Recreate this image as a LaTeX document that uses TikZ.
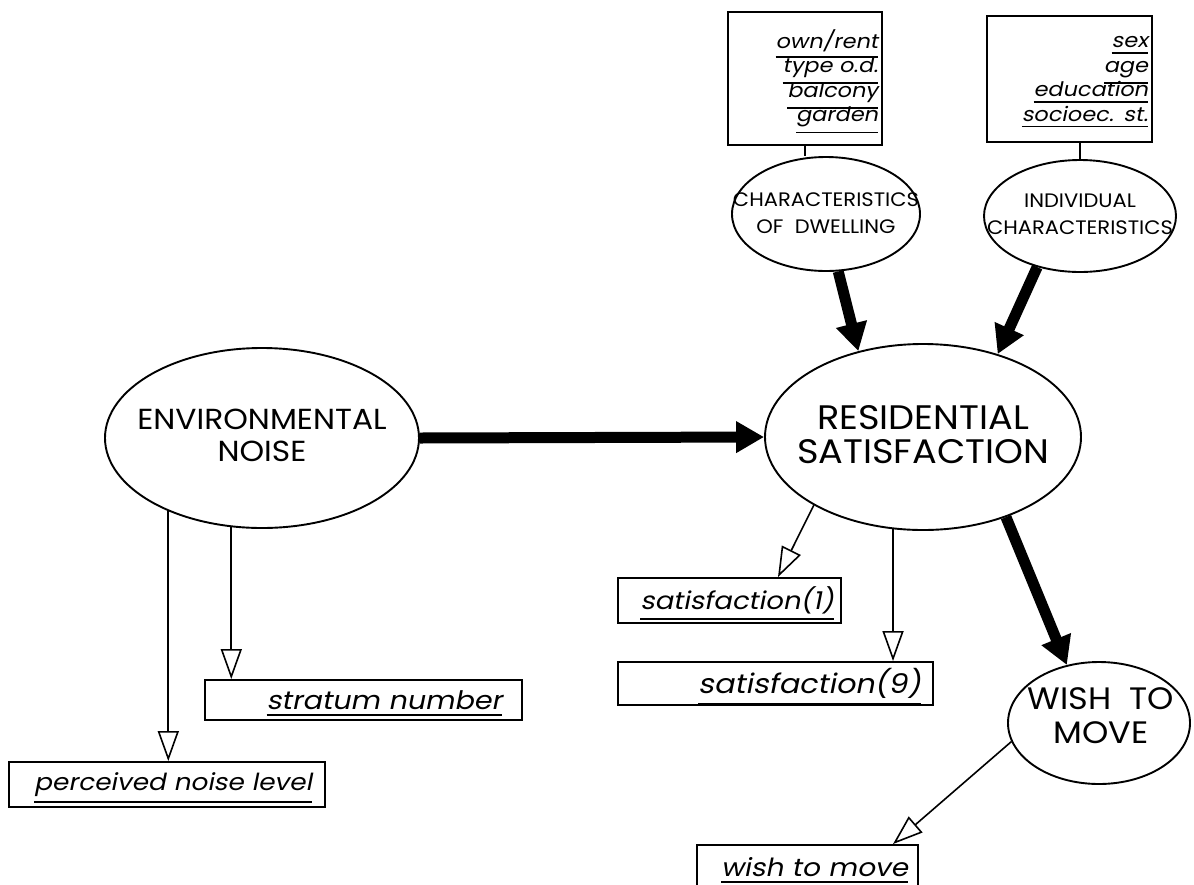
\documentclass[tikz,border=0pt]{standalone}
\usepackage{fontspec}
\setmainfont{Poppins}
\newfontfamily\capfont[FakeStretch=1.08,WordSpace=2]{Poppins}
\newfontfamily\lblfont[FakeSlant=0.2,FakeStretch=1.12,WordSpace=2.2]{Poppins}
\usetikzlibrary{shapes.geometric,arrows.meta}

% underlined variable name: rule drawn under the word without changing line spacing
\newsavebox\ulbox
\newcommand\ulword[1]{\sbox\ulbox{#1}\leavevmode\rlap{\raisebox{-\dimexpr\dp\ulbox+6pt\relax}[0pt][0pt]{\rule{\wd\ulbox}{1.8pt}}}\usebox\ulbox}

\tikzset{
  bubble/.style={draw, ellipse, line width=1.9pt, inner sep=0pt},
  captext/.style={align=center, inner sep=0pt},
  attrbox/.style={draw, rectangle, line width=1.9pt, align=right, inner ysep=0pt,
    font=\lblfont\fontsize{20}{24.5}\selectfont},
  varbox/.style={draw, rectangle, line width=1.9pt, align=right, inner ysep=0pt,
    font=\lblfont\fontsize{23.5}{26}\selectfont},
  thickarr/.style={line width=11pt, -{Triangle[length=28pt,width=30pt]}},
  openarr/.style={line width=1.6pt, -{Triangle[open,length=30pt,width=21pt,line width=1.6pt]}},
  link/.style={line width=2pt}
}

\begin{document}
\begin{tikzpicture}[x=1pt,y=-1pt]
\useasboundingbox (0,0) rectangle (1194,884);

% attribute lists
\node[attrbox, minimum width=154pt, minimum height=133pt, text width=146pt, inner xsep=4pt]
  (dwellattr) at (805,78.5)
  {\ulword{own/rent}\\\ulword{type o.d.}\\\ulword{balcony}\\\ulword{garden}};
\node[attrbox, minimum width=165pt, minimum height=126pt, text width=157pt, inner xsep=4pt]
  (indivattr) at (1069.5,79)
  {\ulword{sex}\\\ulword{age}\\\ulword{education}\\\ulword{socioec. st.}};

% concepts
\node[bubble, minimum width=188pt, minimum height=114pt,
  label={[captext, font=\capfont\fontsize{19.5}{27}\selectfont, yshift=1pt]center:CHARACTERISTICS\\OF DWELLING}]
  (dwell) at (826,214) {};
\node[bubble, minimum width=192pt, minimum height=112pt,
  label={[captext, font=\capfont\fontsize{19.5}{27}\selectfont, yshift=2pt]center:INDIVIDUAL\\CHARACTERISTICS}]
  (indiv) at (1080,216) {};
\node[bubble, minimum width=314pt, minimum height=180pt,
  label={[captext, font=\capfont\fontsize{29}{32}\selectfont, yshift=3pt]center:ENVIRONMENTAL\\NOISE}]
  (env) at (262,438) {};
\node[bubble, minimum width=316pt, minimum height=186pt,
  label={[captext, font=\capfont\fontsize{34}{34}\selectfont, yshift=2pt]center:RESIDENTIAL\\SATISFACTION}]
  (res) at (923,437) {};
\node[bubble, minimum width=182pt, minimum height=122pt,
  label={[captext, font=\capfont\fontsize{31}{34}\selectfont, xshift=2pt, yshift=7pt]center:WISH TO\\MOVE}]
  (wish) at (1099,723) {};

% observed variables
\node[varbox, font=\lblfont\fontsize{25.5}{26}\selectfont, minimum width=317pt, minimum height=40pt, text width=277pt, inner xsep=20pt]
  (strat) at (363.5,700) {\ulword{stratum number}};
\node[varbox, minimum width=316pt, minimum height=45pt, text width=290pt, inner xsep=13pt]
  (perc) at (167,784.5) {\ulword{perceived noise level}};
\node[varbox, font=\lblfont\fontsize{24.5}{26}\selectfont, minimum width=223pt, minimum height=45pt, text width=209pt, inner xsep=7pt]
  (sat1) at (729.5,600.5) {\ulword{satisfaction(1)}};
\node[varbox, font=\lblfont\fontsize{27}{28}\selectfont, minimum width=315pt, minimum height=43pt, text width=291pt, inner xsep=12pt]
  (sat9) at (775.5,683.5) {\ulword{satisfaction(9)}};
\node[varbox, font=\lblfont\fontsize{25}{26}\selectfont, minimum width=221pt, minimum height=44pt, text width=201pt, inner xsep=10pt]
  (wishbox) at (807.5,867) {\ulword{wish to move}};

% attribute links
\draw[link] (dwellattr.south) -- (dwellattr.south |- dwell.north);
\draw[link] (indiv.north) -- (indiv.north |- indivattr.south);

% structural paths
\draw[thickarr] (env.east) -- (res.west);
\draw[thickarr] (dwell.282) -- (res.127);
\draw[thickarr] (indiv.230) -- (res.48);
\draw[thickarr] (res.-44) -- (wish.119);

% measurement paths
\draw[openarr] (env.218) -- (env.218 |- perc.north);
\draw[openarr] (env.251) -- (env.251 |- strat.north);
\draw[openarr] (res.212) -- ([xshift=48.5pt]sat1.north);
\draw[openarr] (res.252) -- (res.252 |- sat9.north);
\draw[openarr] (wish.192) -- ([xshift=85.5pt]wishbox.north);
\end{tikzpicture}
\end{document}
